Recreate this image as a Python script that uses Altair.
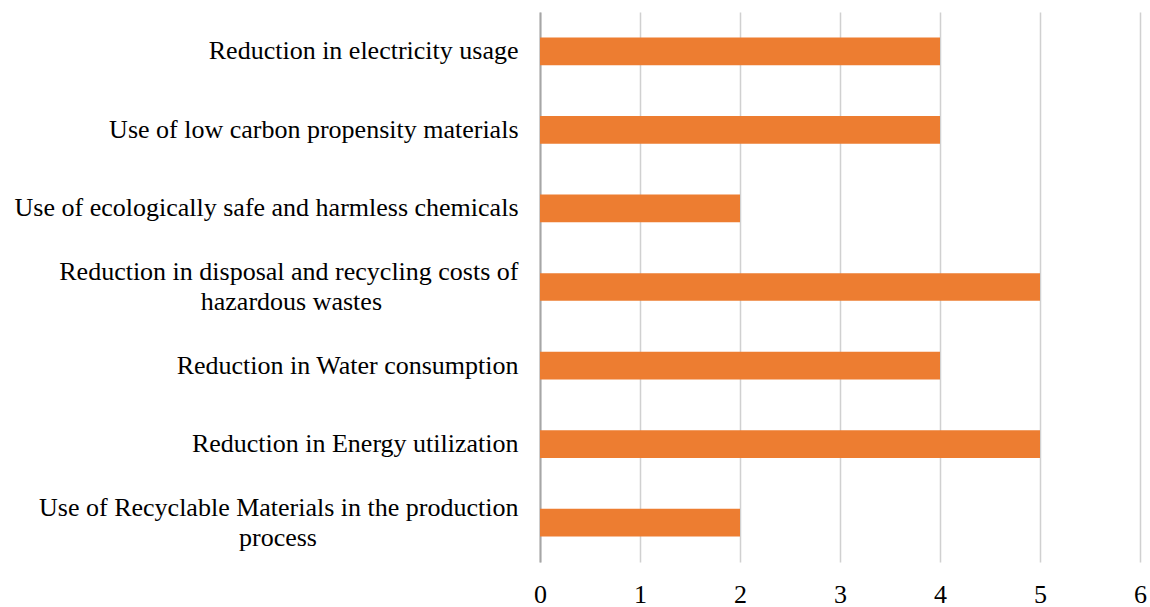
import altair as alt
import pandas as pd

categories = [
    ["Reduction in electricity usage"],
    ["Use of low carbon propensity materials"],
    ["Use of ecologically safe and harmless chemicals"],
    ["Reduction in disposal and recycling costs of", "hazardous wastes"],
    ["Reduction in Water consumption"],
    ["Reduction in Energy utilization"],
    ["Use of Recyclable Materials in the production", "process"],
]
values = [4, 4, 2, 5, 4, 5, 2]
x_ticks = [0, 1, 2, 3, 4, 5, 6]

FONT = "'Liberation Serif', 'Times New Roman', Tinos, serif"
LINE_HEIGHT = 30

# approximate Times/Liberation Serif advance widths (per 1000 em) to centre wrapped lines
_W = {
    'a': 444, 'b': 500, 'c': 444, 'd': 500, 'e': 444, 'f': 333, 'g': 500, 'h': 500,
    'i': 278, 'j': 278, 'k': 500, 'l': 278, 'm': 778, 'n': 500, 'o': 500, 'p': 500,
    'q': 500, 'r': 333, 's': 389, 't': 278, 'u': 500, 'v': 500, 'w': 722, 'x': 500,
    'y': 500, 'z': 444, ' ': 250, 'R': 667, 'U': 722, 'W': 944, 'E': 611, 'M': 889,
}


def _width(s):
    return sum(_W.get(ch, 600) for ch in s)


def _label(lines):
    if len(lines) == 1:
        return lines[0]
    w0 = _width(lines[0])
    out = [lines[0]]
    for ln in lines[1:]:
        n = int(round((w0 - _width(ln)) / 2 / 250))
        # non-breaking spaces followed by a zero-width space so they are not trimmed
        out.append(ln + "\u00a0" * n + "\u200b")
    return "|".join(out)


df = pd.DataFrame({
    "category": [_label(c) for c in categories],
    "value": values,
})
order = list(df["category"])

chart = alt.Chart(df).mark_bar(color="#ED7D31").encode(
    x=alt.X(
        "value:Q",
        scale=alt.Scale(domain=[0, 6], nice=False),
        axis=alt.Axis(
            values=x_ticks,
            title=None,
            ticks=False,
            domain=False,
            grid=True,
            gridColor="#d0d0d0",
            gridWidth=1.5,
            labelFont=FONT,
            labelFontSize=26,
            labelColor="#000000",
            labelPadding=19,
            labelFlush=False,
            format="d",
        ),
    ),
    y=alt.Y(
        "category:N",
        sort=order,
        scale=alt.Scale(paddingInner=0.647, paddingOuter=0.3235),
        axis=alt.Axis(
            title=None,
            ticks=False,
            domain=True,
            domainColor="#a6a6a6",
            domainWidth=2,
            grid=False,
            labelFont=FONT,
            labelFontSize=26,
            labelColor="#000000",
            labelPadding=22,
            labelLimit=0,
            labelLineHeight=LINE_HEIGHT,
            labelOffset={
                "condition": {"test": "indexof(datum.label, '|') >= 0", "value": -LINE_HEIGHT / 2},
                "value": 0,
            },
            labelExpr="split(datum.label, '|')",
        ),
    ),
).properties(
    width=600,
    height=550,
    background="#ffffff",
    autosize=alt.AutoSizeParams(type="none"),
    padding={"left": 540, "top": 12, "right": 10, "bottom": 45},
).configure_view(stroke=None)

chart.save("out.html", embed_options={"renderer": "svg", "actions": False})
